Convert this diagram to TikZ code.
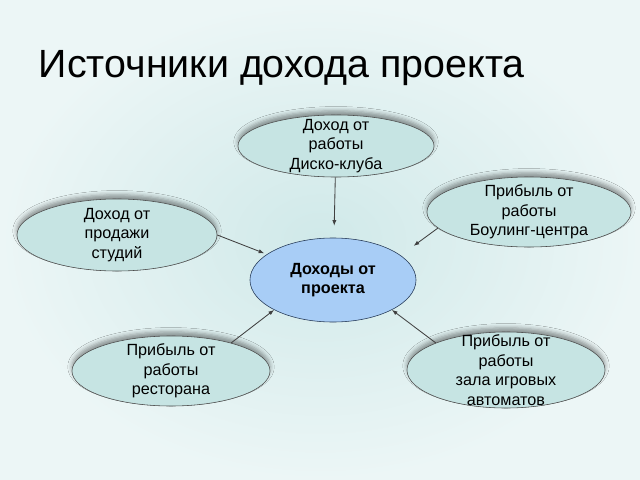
\documentclass[tikz,border=0pt]{standalone}
\usepackage{fontspec}
\setmainfont{Liberation Sans}
\usetikzlibrary{arrows.meta}
\usetikzlibrary{shapes.geometric, shadows.blur}
\definecolor{srcfill}{RGB}{198,228,227}
\definecolor{mainfill}{RGB}{168,205,246}
\definecolor{mainline}{RGB}{35,55,85}
\definecolor{bgmid}{RGB}{208,233,233}
\definecolor{bgedge}{RGB}{236,246,246}
\tikzstyle{source} = [ellipse, inner xsep=0pt, inner ysep=-12pt, draw=black!70, fill=srcfill, align=center, font=\fontsize{11.5}{14}\selectfont, blur shadow={shadow xshift=0pt, shadow yshift=3pt, shadow blur radius=3pt, shadow opacity=40}]
\tikzstyle{income} = [ellipse, inner xsep=0pt, inner ysep=-8pt, minimum width=4.15cm, minimum height=2.1cm, draw=mainline, fill=mainfill, align=center, font=\bfseries\fontsize{11.5}{14}\selectfont]
\tikzstyle{arrow} = [->, >={Latex[length=4pt,width=3pt]}, line width=0.6pt, draw=black!75]

\begin{document}
\begin{tikzpicture}[x=0.025cm, y=-0.025cm]
\useasboundingbox (0,0) rectangle (640,480);
\shade [inner color=bgmid, outer color=bgedge] (0,0) rectangle (640,480);
\node (title) [anchor=base west, font=\fontsize{28}{34}\selectfont] at (34,77) {Источники дохода проекта};
\node (main) [income] at (333,280) {Доходы от\\проекта};
\node (disco) [source, minimum width=4.9cm, minimum height=1.55cm] at (336,146) {Доход от\\работы\\Диско-клуба};
\node (studio) [source, minimum width=5cm, minimum height=1.8cm] at (117,235) {Доход от\\продажи\\студий};
\node (bowl) [source, minimum width=5.1cm, minimum height=1.75cm] at (529,212) {Прибыль от\\работы\\Боулинг-центра};
\node (rest) [source, minimum width=4.95cm, minimum height=1.75cm] at (171,371) {Прибыль от\\работы\\ресторана};
\node (slots) [source, minimum width=4.95cm, minimum height=1.9cm] at (506,370) {Прибыль от\\работы\\зала игровых\\автоматов};
\draw [arrow, shorten >=0.3cm] (disco) -- (main);
\draw [arrow, shorten >=2pt] (studio.east) -- (main);
\draw [arrow, shorten >=0.4cm] (bowl.190) -- (main.20);
\draw [arrow] (rest.25) -- (main.south west);
\draw [arrow] (slots.north west) -- (main.south east);
\end{tikzpicture}
\end{document}
